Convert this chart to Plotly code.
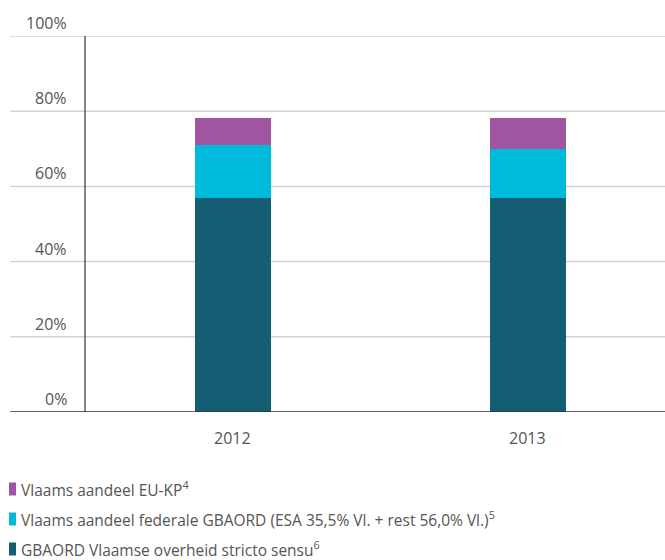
import plotly.graph_objects as go

years = ["2012", "2013"]
series_names = [
    "GBAORD Vlaamse overheid stricto sensu<sup>6</sup>",
    "Vlaams aandeel federale GBAORD (ESA 35,5% Vl. + rest 56,0% Vl.)<sup>5</sup>",
    "Vlaams aandeel EU-KP<sup>4</sup>",
]
series_values = [
    [57.0, 57.0],
    [14.0, 12.9],
    [7.2, 8.3],
]
colors = ["#135E73", "#00BADC", "#A055A0"]
y_ticks = [0, 20, 40, 60, 80, 100]
y_tick_labels = ["0%", "20%", "40%", "60%", "80%", "100%"]

FONT = "Open Sans"
TXT = "#555555"

fig = go.Figure()
for name, vals, col in zip(series_names, series_values, colors):
    fig.add_trace(go.Bar(x=years, y=vals, name=name, marker=dict(color=col, line=dict(width=0)),
                         width=0.258, showlegend=False))

shapes = []
annotations = []
for v, lab in zip(y_ticks, y_tick_labels):
    if v > 0:
        shapes.append(dict(type="line", xref="paper", yref="y", x0=-0.129, x1=1, y0=v, y1=v,
                           line=dict(color="#D3D3D3", width=1.5), layer="below"))
    annotations.append(dict(xref="paper", yref="y", x=-0.027, y=v, text=lab, showarrow=False,
                            xanchor="right", yanchor="bottom", yshift=0,
                            font=dict(family=FONT, size=16, color=TXT)))
shapes.append(dict(type="line", xref="paper", yref="paper", x0=0, x1=0, y0=0, y1=1,
                   line=dict(color="#333333", width=1.2)))
shapes.append(dict(type="line", xref="paper", yref="y", x0=-0.129, x1=1, y0=0, y1=0,
                   line=dict(color="#333333", width=1.5)))
for i, yr in enumerate(years):
    annotations.append(dict(xref="x", yref="paper", x=i, y=0, text=yr, showarrow=False,
                            yanchor="top", yshift=-13, font=dict(family=FONT, size=16, color=TXT)))
row_y = [489, 519, 549]
for i, (name, col) in enumerate(zip(series_names[::-1], colors[::-1])):
    yc = row_y[i]
    shapes.append(dict(type="rect", xref="paper", yref="paper",
                       x0=(9 - 85) / 580, x1=(16 - 85) / 580,
                       y0=(412 - yc + 6.5) / 376, y1=(412 - yc - 6.5) / 376,
                       fillcolor=col, line=dict(width=0)))
    annotations.append(dict(xref="paper", yref="paper", x=(19 - 85) / 580, y=(412 - yc) / 376,
                            text=name, showarrow=False, xanchor="left", yanchor="middle",
                            font=dict(family=FONT, size=15.5, color=TXT)))

fig.update_layout(
    width=665, height=560,
    margin=dict(l=85, r=0, t=36, b=148),
    barmode="stack",
    plot_bgcolor="white", paper_bgcolor="white",
    xaxis=dict(type="category", range=[-0.5, 1.464], showticklabels=False, showgrid=False,
               zeroline=False, showline=False, ticks=""),
    yaxis=dict(range=[0, 100], showticklabels=False, showgrid=False, zeroline=False,
               showline=False, ticks=""),
    shapes=shapes,
    annotations=annotations,
    showlegend=False,
)
fig.write_html("out.html", config={"displayModeBar": False},
               post_script="document.body.style.margin='0';")
